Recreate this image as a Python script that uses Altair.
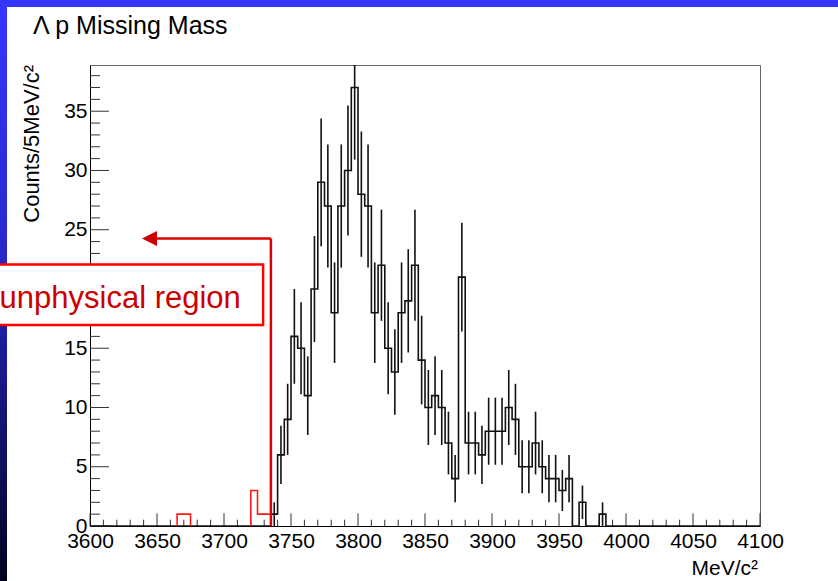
import altair as alt
import pandas as pd
import numpy as np

FONT = "Liberation Sans"

# ---------------- data ----------------
BIN_WIDTH = 5
X_MIN, X_MAX = 3600, 4100
Y_MAX = 38.9

# physical region histogram (black), 5 MeV bins starting at 3735 MeV
black_start = 3735
black_counts = [1, 6, 9, 16, 15, 11, 20, 29, 27, 18,
                27, 30, 37, 28, 27, 18, 22, 15, 13, 18,
                19, 22, 14, 10, 11, 10, 7, 4, 21, 7,
                7, 6, 8, 8, 8, 10, 9, 5, 5, 7,
                5, 4, 4, 3, 4, 0, 2, 0, 0, 1]

# unphysical region histogram (red), 5 MeV bins starting at 3665 MeV
red_start = 3665
red_counts = [1, 1, 0, 0, 0, 0, 0, 0, 0, 0, 0, 3, 1, 1]

x_major = list(range(3600, 4101, 50))
x_minor = [v for v in range(3600, 4101, 10) if v % 50]
y_major = list(range(0, 36, 5))
y_minor = [v for v in range(1, 39) if v % 5]

title_text = "Λ p Missing Mass"
x_title = "MeV/c²"
y_title = "Counts/5MeV/c²"
note_text = "unphysical region"

# annotation anchor values (data units)
threshold = 3735
arrow_level = 24.26
arrow_head_x = 3644.4
box_x1, box_x2 = 3529.0, 3729.2
box_y1, box_y2 = 16.96, 22.07
note_x, note_y = 3532.5, 18.42

# ---------------- layout ----------------
PLOT_W, PLOT_H = 670, 461
PAD = {"left": 90, "top": 65, "right": 78, "bottom": 55}

# ---------------- derived tables ----------------
n_bins = (X_MAX - X_MIN) // BIN_WIDTH
full = np.zeros(n_bins)
i0 = (black_start - X_MIN) // BIN_WIDTH
full[i0:i0 + len(black_counts)] = black_counts

pts = [(X_MIN, 0.0)]
for i, c in enumerate(full):
    lo = X_MIN + i * BIN_WIDTH
    pts.append((lo, c))
    pts.append((lo + BIN_WIDTH, c))
pts.append((X_MAX, 0.0))
outline = pd.DataFrame({"x": [p[0] for p in pts], "y": [p[1] for p in pts],
                        "i": range(len(pts))})

err_rows = []
for k, c in enumerate(black_counts):
    if c > 0:
        ctr = black_start + k * BIN_WIDTH + BIN_WIDTH / 2
        err_rows.append({"x": ctr, "lo": c - np.sqrt(c), "hi": c + np.sqrt(c)})
errs = pd.DataFrame(err_rows)

red_rows = []
run = -1
prev = 0
order = 0
for k, c in enumerate(red_counts):
    lo = red_start + k * BIN_WIDTH
    if c > 0 and prev == 0:
        run += 1
        red_rows.append({"x": lo, "y": 0, "run": run, "i": order}); order += 1
    if c > 0:
        red_rows.append({"x": lo, "y": c, "run": run, "i": order}); order += 1
        red_rows.append({"x": lo + BIN_WIDTH, "y": c, "run": run, "i": order}); order += 1
    if c == 0 and prev > 0:
        red_rows.append({"x": lo, "y": 0, "run": run, "i": order}); order += 1
    prev = c
if prev > 0:
    red_rows.append({"x": red_start + len(red_counts) * BIN_WIDTH, "y": 0, "run": run, "i": order})
red_df = pd.DataFrame(red_rows)

xs = alt.Scale(domain=[X_MIN, X_MAX], nice=False, zero=False)
ys = alt.Scale(domain=[0, Y_MAX], nice=False, zero=True)

x_axis = alt.Axis(values=x_major, format="d", labelFont=FONT, labelFontSize=21,
                  labelColor="black", labelFlush=False, labelOverlap=False,
                  ticks=False, tickSize=0, domainColor="black", domainWidth=1,
                  grid=False, title=None, labelPadding=4)
y_axis = alt.Axis(values=y_major, format="d", labelFont=FONT, labelFontSize=21,
                  labelColor="black", labelFlush=False, labelOverlap=False,
                  ticks=False, tickSize=0, domainColor="black", domainWidth=1,
                  grid=False, title=None, labelPadding=3)


def X(field):
    return alt.X(field, scale=xs, axis=x_axis)


def Y(field):
    return alt.Y(field, scale=ys, axis=y_axis)


one = pd.DataFrame({"a": [0]})

# slide background strips (outside the frame)
top_strip = alt.Chart(one).mark_rect(color="#3434fb").encode(
    x=alt.value(-PAD["left"]), x2=alt.value(PLOT_W + PAD["right"]),
    y=alt.value(-PAD["top"]), y2=alt.value(-PAD["top"] + 7))
left_grad = alt.Gradient(gradient="linear", x1=0, x2=0, y1=0, y2=1, stops=[
    alt.GradientStop(offset=0, color="#3535ff"),
    alt.GradientStop(offset=0.4, color="#2a2ad0"),
    alt.GradientStop(offset=0.7, color="#15157a"),
    alt.GradientStop(offset=1, color="#02021e")])
left_strip = alt.Chart(one).mark_rect(color=left_grad).encode(
    x=alt.value(-PAD["left"]), x2=alt.value(-PAD["left"] + 7),
    y=alt.value(-PAD["top"]), y2=alt.value(PLOT_H + PAD["bottom"]))

# inner ticks
xt_major = alt.Chart(pd.DataFrame({"x": x_major})).mark_rule(color="#333", strokeWidth=1).encode(
    x=X("x:Q"), y=alt.value(PLOT_H), y2=alt.value(PLOT_H - 12.7))
xt_minor = alt.Chart(pd.DataFrame({"x": x_minor})).mark_rule(color="#333", strokeWidth=1).encode(
    x=X("x:Q"), y=alt.value(PLOT_H), y2=alt.value(PLOT_H - 6.3))
yt_major = alt.Chart(pd.DataFrame({"y": y_major})).mark_rule(color="#333", strokeWidth=1).encode(
    y=Y("y:Q"), x=alt.value(0), x2=alt.value(19))
yt_minor = alt.Chart(pd.DataFrame({"y": y_minor})).mark_rule(color="#333", strokeWidth=1).encode(
    y=Y("y:Q"), x=alt.value(0), x2=alt.value(10))

hist = alt.Chart(outline).mark_line(color="#111", strokeWidth=1.6, interpolate="linear").encode(
    x=X("x:Q"), y=Y("y:Q"), order="i:Q")

errbars = alt.Chart(errs).mark_rule(color="#111", strokeWidth=1.6, clip=True).encode(
    x=X("x:Q"), y=Y("lo:Q"), y2="hi:Q")

red_hist = alt.Chart(red_df).mark_line(color="#ff1a1a", strokeWidth=1.6).encode(
    x=X("x:Q"), y=Y("y:Q"), detail="run:N", order="i:Q")

ann = pd.DataFrame({"thr": [threshold], "lvl": [arrow_level], "head": [arrow_head_x],
                    "zero": [0.0], "bx1": [box_x1], "bx2": [box_x2],
                    "by1": [box_y1], "by2": [box_y2],
                    "nx": [note_x], "ny": [note_y], "t": [note_text]})

arrow_v = alt.Chart(ann).mark_rule(color="#dd0000", strokeWidth=2.5).encode(
    x=X("thr:Q"), y=Y("zero:Q"), y2="lvl:Q")
arrow_h = alt.Chart(ann).mark_rule(color="#dd0000", strokeWidth=2.5).encode(
    x=X("head:Q"), x2="thr:Q", y=Y("lvl:Q"))
arrow_head = alt.Chart(ann).mark_point(shape="M -1 0 L 1 -1 L 1 1 Z", size=225, filled=True,
                                       color="#cc0000", opacity=1, strokeWidth=0).encode(
    x=X("head:Q"), y=Y("lvl:Q"))

box = alt.Chart(ann).mark_rect(fill="white", stroke="#ff0000", strokeWidth=2.4).encode(
    x=X("bx1:Q"), x2="bx2:Q", y=Y("by1:Q"), y2="by2:Q")
note = alt.Chart(ann).mark_text(font=FONT, fontSize=31, color="#cc0000", align="left",
                                baseline="alphabetic").encode(
    x=X("nx:Q"), y=Y("ny:Q"), text="t:N")

title = alt.Chart(pd.DataFrame({"t": [title_text]})).mark_text(
    font=FONT, fontSize=25, color="black", align="left", baseline="alphabetic").encode(
    x=alt.value(-57), y=alt.value(-31.5), text="t:N")
xtitle = alt.Chart(pd.DataFrame({"t": [x_title]})).mark_text(
    font=FONT, fontSize=21, color="black", align="right", baseline="alphabetic").encode(
    x=alt.value(PLOT_W - 2), y=alt.value(PLOT_H + 49), text="t:N")
ytitle = alt.Chart(pd.DataFrame({"t": [y_title]})).mark_text(
    font=FONT, fontSize=22, color="black", align="right", baseline="alphabetic",
    angle=270).encode(
    x=alt.value(-51), y=alt.value(0), text="t:N")

chart = alt.layer(
    top_strip, left_strip,
    xt_major, xt_minor, yt_major, yt_minor,
    hist, errbars, red_hist,
    arrow_v, arrow_h, arrow_head,
    box, note,
    title, xtitle, ytitle,
).properties(
    width=PLOT_W, height=PLOT_H, padding=PAD,
    autosize=alt.AutoSizeParams(type="none"),
    background="white",
).configure_view(stroke="#666", strokeWidth=1)

chart.save("out.html", embed_options={"renderer": "svg", "actions": False})
